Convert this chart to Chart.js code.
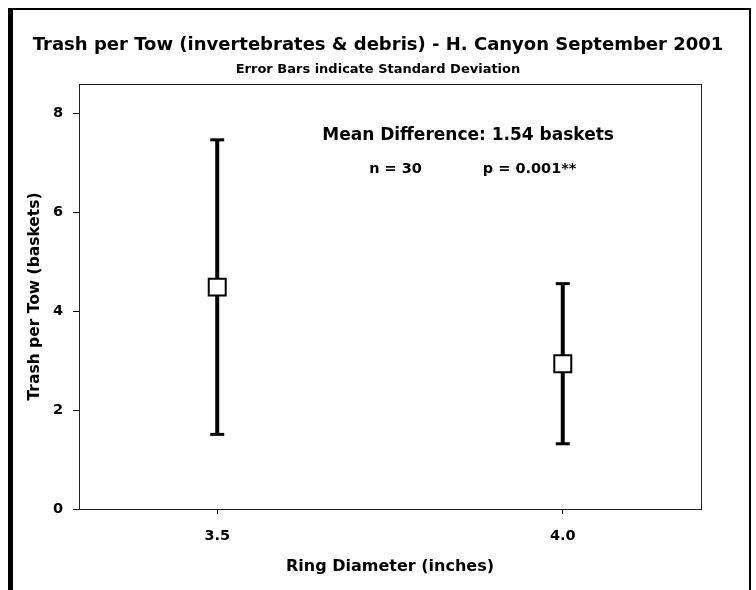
<!DOCTYPE html>
<html>
<head>
<meta charset="utf-8">
<script src="https://cdn.jsdelivr.net/npm/chart.js@4/dist/chart.umd.min.js"></script>
<style>
  html, body { margin: 0; padding: 0; background: #fff; }
  #wrap { position: relative; width: 756px; height: 590px; }
  #frame { position: absolute; left: 8px; top: 8px; width: 736px; height: 600px;
           border-left: 5px solid #000; border-top: 2px solid #000; border-right: 2px solid #000;
           pointer-events: none; }
  canvas { position: absolute; left: 0; top: 0; }
</style>
</head>
<body>
<div id="wrap">
  <canvas id="c" width="756" height="590"></canvas>
  <div id="frame"></div>
</div>
<script>
// ---- data ----
const categories = [3.5, 4.0];           // ring diameter (inches)
const categoryLabels = ['3.5', '4.0'];
const means = [4.49, 2.94];              // mean trash per tow (baskets)
const stdDevs = [2.98, 1.62];            // standard deviation
const yTickValues = [0, 2, 4, 6, 8];
const titleText = 'Trash per Tow (invertebrates & debris) - H. Canyon September 2001';
const subtitleText = 'Error Bars indicate Standard Deviation';
const xTitleText = 'Ring Diameter (inches)';
const yTitleText = 'Trash per Tow (baskets)';
const noteLine1 = 'Mean Difference: 1.54 baskets';
const noteN = 'n = 30';
const noteP = 'p = 0.001**';

const FONT = "'DejaVu Sans', 'Liberation Sans', Arial, sans-serif";

const datasets = [];
categories.forEach((c, i) => {
  datasets.push({
    type: 'scatter',
    data: [{x: c, y: means[i] - stdDevs[i]}, {x: c, y: means[i] + stdDevs[i]}],
    showLine: true,
    borderColor: '#000',
    borderWidth: 4,
    pointStyle: 'line',
    pointRadius: 7,
    pointBorderWidth: 3,
    pointBorderColor: '#000',
    pointBackgroundColor: '#000',
    order: 2
  });
});
datasets.push({
  type: 'scatter',
  data: categories.map((c, i) => ({x: c, y: means[i]})),
  pointStyle: 'rect',
  pointRadius: 12,
  backgroundColor: '#fff',
  borderColor: '#000',
  borderWidth: 2,
  order: 1
});

const boxPlugin = {
  id: 'box',
  beforeDatasetsDraw(chart) {
    const a = chart.chartArea, ctx = chart.ctx;
    ctx.save();
    ctx.strokeStyle = '#222';
    ctx.lineWidth = 1;
    ctx.strokeRect(Math.round(a.left) + 0.5, Math.round(a.top) + 0.5,
                   Math.round(a.right - a.left), Math.round(a.bottom - a.top));
    ctx.restore();
  }
};

const notesPlugin = {
  id: 'notes',
  afterDatasetsDraw(chart) {
    const ctx = chart.ctx, xs = chart.scales.x, ys = chart.scales.y;
    ctx.save();
    ctx.fillStyle = '#000';
    ctx.textAlign = 'center';
    ctx.textBaseline = 'middle';
    ctx.font = 'bold 17px ' + FONT;
    ctx.fillText(noteLine1, xs.getPixelForValue(3.863), ys.getPixelForValue(7.55));
    ctx.font = 'bold 14.5px ' + FONT;
    ctx.fillText(noteN, xs.getPixelForValue(3.758), ys.getPixelForValue(6.88));
    ctx.fillText(noteP, xs.getPixelForValue(3.952), ys.getPixelForValue(6.88));
    ctx.restore();
  }
};

new Chart(document.getElementById('c'), {
  type: 'scatter',
  data: { datasets },
  options: {
    responsive: false,
    animation: false,
    layout: { padding: { left: 0, right: 0, top: 0, bottom: 0 } },
    plugins: {
      legend: { display: false },
      tooltip: { enabled: false },
      title: {
        display: true, text: titleText, color: '#000',
        font: { family: FONT, size: 18, weight: 'bold' },
        padding: { top: 34.2, bottom: 2 }
      },
      subtitle: {
        display: true, text: subtitleText, color: '#000',
        font: { family: FONT, size: 13, weight: 'bold' },
        padding: { top: 3.9, bottom: 6.7 }
      }
    },
    scales: {
      x: {
        type: 'linear', min: 3.3, max: 4.2,
        afterBuildTicks: s => { s.ticks = categories.map(v => ({value: v})); },
        afterFit: s => { s.height = 81; },
        ticks: {
          color: '#000', padding: 14,
          font: { family: FONT, size: 14.5, weight: 'bold' },
          callback: v => categoryLabels[categories.indexOf(v)]
        },
        grid: { display: true, drawOnChartArea: false, drawTicks: true, tickLength: 5, color: '#000' },
        border: { display: true, color: '#000', width: 1 },
        title: {
          display: true, text: xTitleText, color: '#000',
          font: { family: FONT, size: 16, weight: 'bold' },
          padding: { top: 4, bottom: 14 }
        }
      },
      y: {
        type: 'linear', min: 0, max: 8.6,
        afterBuildTicks: s => { s.ticks = yTickValues.map(v => ({value: v})); },
        afterFit: s => { s.width = 79; },
        ticks: {
          color: '#000', padding: 10,
          font: { family: FONT, size: 14.5, weight: 'bold' }
        },
        grid: { display: true, drawOnChartArea: false, drawTicks: true, tickLength: 6, color: '#000' },
        border: { display: true, color: '#000', width: 1 },
        title: {
          display: true, text: yTitleText, color: '#000',
          font: { family: FONT, size: 15.5, weight: 'bold' },
          padding: { top: 26, bottom: 4 }
        }
      },
      yRight: {
        type: 'linear', position: 'right', display: true,
        ticks: { display: false },
        grid: { display: false },
        border: { display: false },
        afterFit: s => { s.width = 55; }
      }
    }
  },
  plugins: [boxPlugin, notesPlugin]
});
</script>
</body>
</html>
